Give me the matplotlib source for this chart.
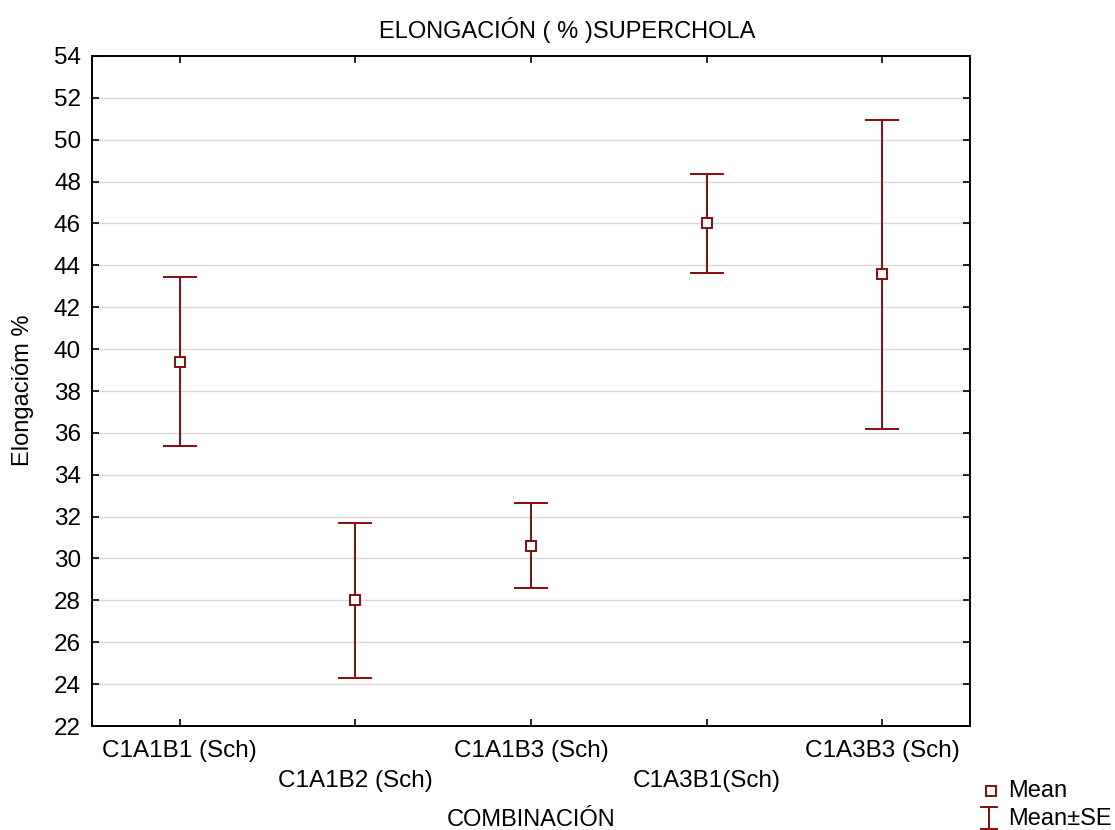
import matplotlib
matplotlib.use("Agg")
import matplotlib.pyplot as plt
from matplotlib.lines import Line2D

categories = ["C1A1B1 (Sch)", "C1A1B2 (Sch)", "C1A1B3 (Sch)", "C1A3B1(Sch)", "C1A3B3 (Sch)"]
means = [39.4, 28.0, 30.62, 46.0, 43.57]
se = [4.03, 3.7, 2.05, 2.35, 7.38]
yticks = list(range(22, 55, 2))

RED = "#8B0A0A"
plt.rcParams['font.family'] = ['Liberation Sans', 'DejaVu Sans']

fig = plt.figure(figsize=(11.15, 8.3), dpi=100)
ax = fig.add_axes([92/1115, 1-726/830, (970-92)/1115, (726-56)/830])

x = list(range(len(categories)))
ax.errorbar(x, means, yerr=se, fmt='none', ecolor=RED, elinewidth=1.4,
            capsize=12.5, capthick=1.4, zorder=3)
ax.plot(x, means, linestyle='none', marker='s', markersize=7.5,
        markerfacecolor='white', markeredgecolor=RED, markeredgewidth=1.4, zorder=4)

ax.set_xlim(-0.5, len(categories) - 0.5)
ax.set_ylim(22, 54)
ax.set_yticks(yticks)
ax.set_yticklabels([str(v) for v in yticks])
ax.set_xticks(x)
ax.set_xticklabels(categories)
ax.grid(axis='y', color='#d9d9d9', linewidth=1.0)
ax.set_axisbelow(True)

ax.tick_params(axis='both', direction='in', length=5, width=1.2, labelsize=17.5,
               top=True, right=True, colors='black')
ax.tick_params(axis='y', pad=8)
for i, t in enumerate(ax.xaxis.get_major_ticks()):
    t.set_pad(10 if i % 2 == 0 else 31.5)

for s in ax.spines.values():
    s.set_linewidth(1.4)
    s.set_color('black')

fig.text(567/1115, 1-30/830, "ELONGACIÓN ( % )SUPERCHOLA", ha='center', va='center', fontsize=17)
fig.text(531/1115, 1-820/830, "COMBINACIÓN", ha='center', va='center', fontsize=17)
fig.text(23/1115, 1-390/830, "Elongacióm %", ha='center', va='center', rotation=90, fontsize=17)

# legend
tf = fig.transFigure
def fx(px):
    return px/1115
def fy(py):
    return 1-py/830
fig.add_artist(Line2D([fx(991)], [fy(791)], transform=tf, linestyle='none', marker='s',
                      markersize=7.5, markerfacecolor='white', markeredgecolor=RED, markeredgewidth=1.4))
fig.add_artist(Line2D([fx(989), fx(989)], [fy(807), fy(829)], transform=tf, color=RED, linewidth=1.4))
fig.add_artist(Line2D([fx(981), fx(997)], [fy(807), fy(807)], transform=tf, color=RED, linewidth=1.4))
fig.add_artist(Line2D([fx(981), fx(997)], [fy(829), fy(829)], transform=tf, color=RED, linewidth=1.4))
fig.text(fx(1008), fy(791), "Mean", ha='left', va='center', fontsize=17)
fig.text(fx(1008), fy(819), "Mean±SE", ha='left', va='center', fontsize=17)

fig.savefig("out.png", dpi=100)
